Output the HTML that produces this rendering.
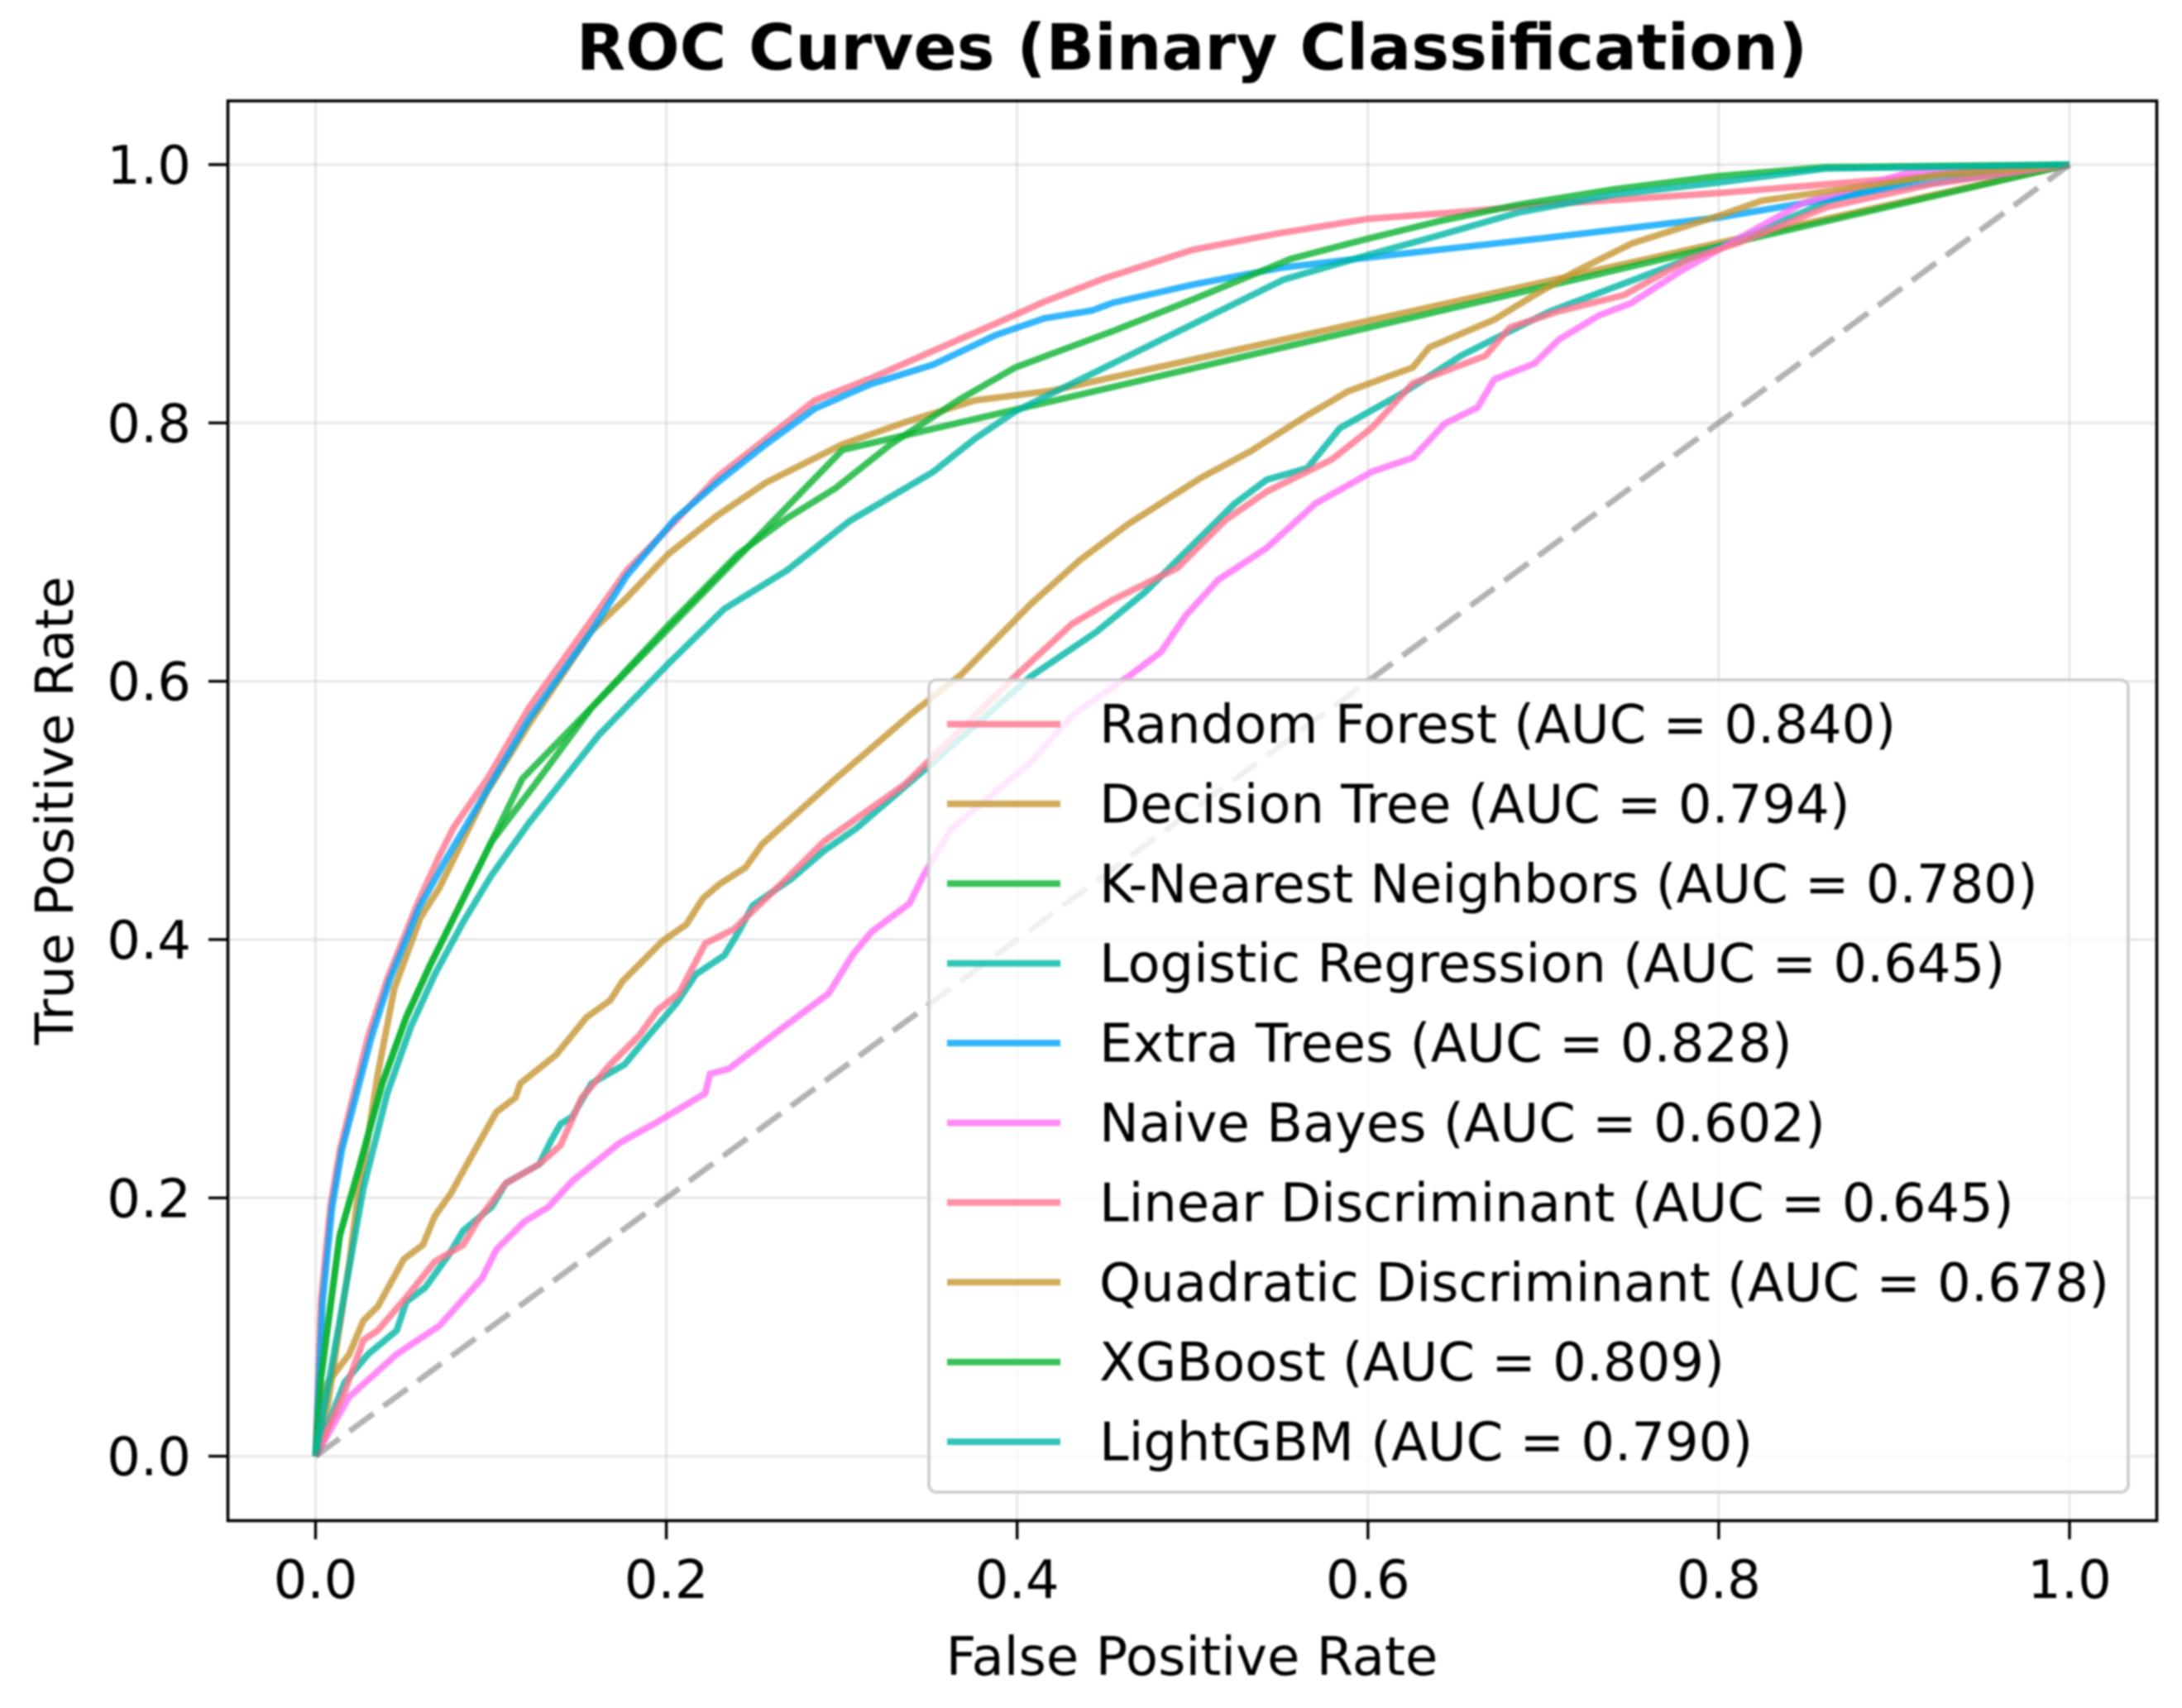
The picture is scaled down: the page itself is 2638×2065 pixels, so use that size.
<!DOCTYPE html>
<html lang="en">
<head>
<meta charset="utf-8">
<title>ROC Curves (Binary Classification)</title>
<style>
html,body{margin:0;padding:0;background:#fff;}
body{width:2638px;height:2065px;overflow:hidden;}
svg{display:block;filter:blur(1px);}
text{font-family:"DejaVu Sans",sans-serif;fill:#000;}
</style>
</head>
<body>
<svg id="chart" xmlns="http://www.w3.org/2000/svg" width="2638" height="2065" viewBox="0 0 2638 2065">
  <rect x="0" y="0" width="2638" height="2065" fill="#fff"/>
  <text x="1441" y="84" text-anchor="middle" font-size="77" font-weight="700">ROC Curves (Binary Classification)</text>
  <g id="grid"></g>
  <g id="series"></g>
  <g id="legend"></g>
  <rect x="275.5" y="122" width="2332" height="1716.5" fill="none" stroke="#000" stroke-width="3.6"/>
  <g id="ticks"></g>
  <text x="1441" y="2025" text-anchor="middle" font-size="64">False Positive Rate</text>
  <text x="0" y="0" transform="translate(88 980) rotate(-90)" text-anchor="middle" font-size="63.6">True Positive Rate</text>
</svg>
<script>
// Axis ticks
var xTickValues = [0, 0.2, 0.4, 0.6, 0.8, 1];
var yTickValues = [0, 0.2, 0.4, 0.6, 0.8, 1];
var xTickLabels = ['0.0', '0.2', '0.4', '0.6', '0.8', '1.0'];
var yTickLabels = ['0.0', '0.2', '0.4', '0.6', '0.8', '1.0'];

// Legend text
var modelNames = ['Random Forest', 'Decision Tree', 'K-Nearest Neighbors', 'Logistic Regression', 'Extra Trees', 'Naive Bayes', 'Linear Discriminant', 'Quadratic Discriminant', 'XGBoost', 'LightGBM'];
var modelAuc = ['0.840', '0.794', '0.780', '0.645', '0.828', '0.602', '0.645', '0.678', '0.809', '0.790'];

// Reference line
var chanceFpr = [0, 1];
var chanceTpr = [0, 1];

// Series values
var fprRandomForest = [0, .003, .0084, .0138, .0219, .03, .0409, .0517, .0571, .0706, .0788, .098, .1218, .1575, .1774, .2052, .229, .2568, .2846, .3164, .352, .3878, .4156, .45, .5, .55, .6, .65, .7, .8, .9, 1];
var tprRandomForest = [0, .1195, .193, .237, .281, .325, .3695, .406, .4246, .465, .487, .5245, .5797, .6476, .6858, .724, .758, .7877, .8174, .8344, .8557, .8769, .8939, .912, .934, .947, .958, .963, .969, .978, .989, 1];

var fprDecisionTree = [0, .007, .0192, .0233, .03, .0355, .0449, .0598, .0706, .0815, .098, .1218, .1575, .1774, .2012, .229, .2568, .3005, .3362, .3759, .42, .7, 1];
var tprDecisionTree = [0, .04, .149, .193, .248, .296, .362, .417, .44, .47, .515, .567, .639, .6646, .6985, .7283, .7537, .7835, .8005, .8174, .825, .909, 1];

var fprKnn = [0, .003, .0138, .0246, .038, .0517, .0652, .0788, .1004, .1179, .3005, 1];
var tprKnn = [0, .06, .171, .2224, .2886, .34, .38, .417, .476, .5245, .7792, 1];

var fprLogistic = [0, .0165, .03, .0463, .0517, .0625, .076, .0842, .1004, .1085, .1275, .1343, .1397, .1464, .1573, .1762, .1897, .206, .2168, .2331, .2412, .2493, .271, .2899, .3084, .352, .408, .445, .473, .496, .524, .5423, .5655, .584, .621, .653, .672, .704, .746, .783, .8153, .866, .922, 1];
var tprLogistic = [0, .057, .079, .0974, .1195, .1305, .156, .1746, .193, .2114, .226, .2445, .2573, .2629, .2886, .3033, .3254, .351, .373, .3878, .406, .4264, .4467, .4687, .4862, .537, .604, .638, .669, .7, .7375, .756, .765, .796, .824, .852, .865, .8865, .908, .927, .944, .9734, .992, 1];

var fprExtraTrees = [0, .004, .0095, .015, .0235, .032, .0425, .0535, .059, .0742, .098, .1218, .1575, .1774, .2052, .229, .2568, .2846, .3164, .352, .3878, .4156, .4426, .4545, .5, .55, .6, .7, .8, .9, 1];
var tprExtraTrees = [0, .1195, .193, .237, .281, .325, .3695, .406, .4246, .4616, .516, .571, .639, .6816, .726, .7537, .7835, .811, .83, .845, .868, .881, .887, .893, .907, .92, .928, .943, .959, .982, 1];

var fprNaiveBayes = [0, .0192, .0463, .0706, .095, .1031, .1194, .1329, .1464, .1735, .1952, .2222, .2249, .2358, .2655, .2926, .306, .317, .3387, .3468, .3625, .408, .4315, .4637, .482, .496, .5146, .5424, .57, .6025, .6256, .644, .6626, .672, .695, .709, .732, .75, .7783, .8107, .8477, .9078, 1];
var tprNaiveBayes = [0, .046, .079, .101, .1379, .16, .182, .193, .213, .2427, .259, .281, .296, .3, .3309, .3584, .3878, .406, .428, .4503, .4857, .5376, .5738, .604, .6226, .6506, .6785, .7033, .7375, .7623, .773, .7996, .812, .8337, .846, .8647, .8834, .8927, .9175, .9423, .97, .9936, 1];

var fprLinear = [0, .0165, .0273, .0355, .0517, .068, .0842, .0923, .1085, .1275, .1397, .1518, .168, .1843, .1952, .2073, .2222, .2385, .2682, .2899, .336, .399, .4313, .4545, .4915, .519, .5423, .5793, .6025, .6256, .667, .681, .709, .746, .783, .8107, .8615, .922, 1];
var tprLinear = [0, .0497, .09, .0974, .123, .1507, .1636, .182, .2114, .226, .2408, .2776, .3033, .3254, .3456, .3584, .397, .408, .4467, .476, .5202, .604, .6444, .663, .6878, .725, .7468, .7716, .7965, .8306, .852, .874, .8865, .899, .927, .9392, .967, .985, 1];

var fprQuadratic = [0, .007, .0192, .0273, .0355, .0503, .0612, .0679, .0774, .0855, .1031, .114, .1167, .137, .1546, .168, .1749, .1979, .2114, .2209, .2304, .2452, .2547, .2965, .3402, .368, .408, .436, .4637, .505, .533, .5655, .5886, .6256, .635, .672, .695, .718, .7505, .8014, .8245, .871, .926, 1];
var tprQuadratic = [0, .057, .079, .105, .116, .1526, .1636, .1857, .204, .224, .2665, .2776, .2886, .3106, .34, .3529, .3676, .3989, .4117, .432, .443, .4559, .474, .5245, .5754, .605, .66, .694, .722, .7577, .778, .806, .8244, .843, .8585, .88, .899, .917, .939, .961, .972, .981, .992, 1];

var fprXgboost = [0, .003, .0138, .0246, .038, .0517, .0652, .0788, .1004, .125, .1575, .2012, .241, .2687, .2965, .328, .367, .399, .4545, .501, .556, .598, .64, .686, .741, .799, .861, 1];
var tprXgboost = [0, .06, .171, .2224, .2886, .34, .38, .417, .476, .52, .5797, .6434, .6985, .7262, .7495, .7835, .818, .843, .871, .896, .927, .942, .956, .969, .981, .991, .998, 1];

var fprLightgbm = [0, .0273, .0409, .0544, .068, .0842, .1004, .1218, .1615, .2012, .233, .2687, .3044, .352, .3759, .399, .438, .501, .552, .6, .64, .686, .741, .799, .861, 1];
var tprLightgbm = [0, .2077, .281, .3327, .373, .4136, .45, .4905, .5584, .6136, .656, .6858, .724, .762, .7877, .809, .835, .877, .911, .93, .945, .963, .977, .986, .997, 1];

// Collected in draw order
var seriesFpr = [fprRandomForest, fprDecisionTree, fprKnn, fprLogistic, fprExtraTrees, fprNaiveBayes, fprLinear, fprQuadratic, fprXgboost, fprLightgbm];
var seriesTpr = [tprRandomForest, tprDecisionTree, tprKnn, tprLogistic, tprExtraTrees, tprNaiveBayes, tprLinear, tprQuadratic, tprXgboost, tprLightgbm];

var palette = ['rgb(255,115,140)', 'rgb(197,150,50)', 'rgb(11,179,49)', 'rgb(0,181,166)', 'rgb(0,164,251)', 'rgb(255,110,246)', 'rgb(255,115,140)', 'rgb(197,150,50)', 'rgb(11,179,49)', 'rgb(0,181,166)'];
var seriesKeys = ['random-forest', 'decision-tree', 'k-nearest-neighbors', 'logistic-regression', 'extra-trees', 'naive-bayes', 'linear-discriminant', 'quadratic-discriminant', 'xgboost', 'lightgbm'];

var SVGNS = 'http://www.w3.org/2000/svg';
function xScale(v) { return 381.5 + 2120.5 * v; }
function yScale(v) { return 1760.6 - 1561.6 * v; }
function make(tag, parent, attrs) {
  var el = document.createElementNS(SVGNS, tag);
  for (var k in attrs) { el.setAttribute(k, attrs[k]); }
  parent.appendChild(el);
  return el;
}
function pathFrom(xs, ys) {
  var d = '';
  for (var i = 0; i < xs.length; i++) {
    d += (i ? 'L' : 'M') + xScale(xs[i]).toFixed(1) + ' ' + yScale(ys[i]).toFixed(1);
  }
  return d;
}

var gridG = document.getElementById('grid');
var ticksG = document.getElementById('ticks');
var seriesG = document.getElementById('series');
var legendG = document.getElementById('legend');

xTickValues.forEach(function (v, i) {
  var gl = make('line', gridG, { x1: xScale(v), x2: xScale(v), y1: 122, y2: 1838, stroke: '#b0b0b0', 'stroke-opacity': 0.3, 'stroke-width': 3 });
  
  
  var tk = make('line', ticksG, { x1: xScale(v), x2: xScale(v), y1: 1838, y2: 1861, stroke: '#000', 'stroke-width': 3.4 });
  
  
  var tx = make('text', ticksG, { x: xScale(v), y: 1932, 'text-anchor': 'middle', 'font-size': 64 });
  
  
  tx.textContent = xTickLabels[i];
});
yTickValues.forEach(function (v, i) {
  var gl = make('line', gridG, { x1: 275, x2: 2607, y1: yScale(v), y2: yScale(v), stroke: '#b0b0b0', 'stroke-opacity': 0.3, 'stroke-width': 3 });
  
  
  var tk = make('line', ticksG, { x1: 275, x2: 252, y1: yScale(v), y2: yScale(v), stroke: '#000', 'stroke-width': 3.4 });
  
  
  var tx = make('text', ticksG, { x: 231, y: yScale(v) + 23, 'text-anchor': 'end', 'font-size': 64 });
  
  
  tx.textContent = yTickLabels[i];
});

seriesFpr.forEach(function (xs, i) {
  var p = make('path', seriesG, { d: pathFrom(xs, seriesTpr[i]), fill: 'none', stroke: palette[i], 'stroke-opacity': 0.8, 'stroke-width': 8, 'stroke-linejoin': 'round' });
  
  
});
var chance = make('path', seriesG, { d: pathFrom(chanceFpr, chanceTpr), fill: 'none', stroke: '#808080', 'stroke-opacity': 0.6, 'stroke-width': 7, 'stroke-dasharray': '36 15' });



var legendBox = make('rect', legendG, { x: 1123, y: 822, width: 1450, height: 982, rx: 9, ry: 9, fill: '#fff', 'fill-opacity': 0.8, stroke: '#cccccc', 'stroke-width': 3.6 });


modelNames.forEach(function (name, i) {
  var rowY = 875.5 + 96.4 * i;
  var h = make('line', legendG, { x1: 1145, x2: 1282, y1: rowY, y2: rowY, stroke: palette[i], 'stroke-opacity': 0.8, 'stroke-width': 8 });
  
  
  var t = make('text', legendG, { x: 1329, y: rowY + 22.5, 'font-size': 63.9 });
  
  
  t.textContent = name + ' (AUC = ' + modelAuc[i] + ')';
});
</script>
</body>
</html>
